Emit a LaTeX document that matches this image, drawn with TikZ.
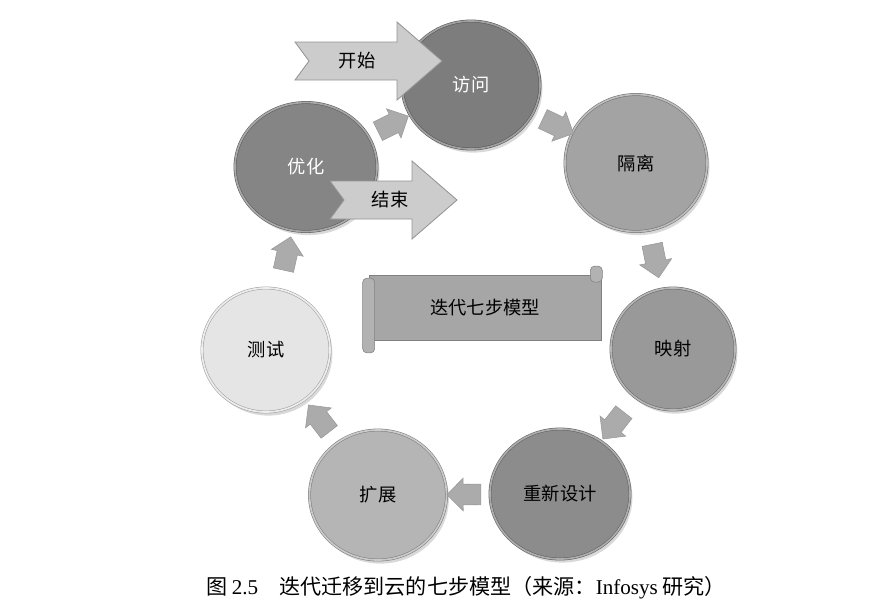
\documentclass[tikz,border=0pt]{standalone}
\usepackage{fontspec}
\setmainfont{Noto Sans CJK SC}
\newfontfamily\latinfont{Liberation Serif}
\usepackage{tikz}
\usetikzlibrary{arrows.meta,positioning,shapes.geometric,shapes.arrows,shadows,calc}
\newcommand{\labelsize}{\fontsize{13}{15}\selectfont}
\tikzset{
  stepdisc/.style={ellipse,fill=black!#1,draw=black!#1!white!70!black,double=black!#1!white!72,double distance=1.2pt,
    font=\labelsize,drop shadow={shadow xshift=0.6mm,shadow yshift=-0.9mm,opacity=0.3}},
  flowarrow/.style={single arrow,fill=black!33,draw=black!40,minimum height=0.85cm,inner sep=0.25cm,
    single arrow head extend=0.15cm},
  bigarrow/.style={fill=black!20,draw=black!42,line width=0.6pt},
  scrollbox/.style={rectangle,fill=black!35,draw=black!50,minimum width=5.8cm,minimum height=1.63cm,font=\labelsize},
  scrollroll/.style={fill=black!30,draw=black!50,rounded corners=3pt}
}

\begin{document}
\begin{tikzpicture}[x=0.025cm,y=-0.025cm]
        \useasboundingbox (0,0) rectangle (886,614);
        \foreach \n/\x/\y/\g/\w/\h/\t/\tc in {visit/471/85/51/138/128/访问/white, iso/636/163/36/142/137/隔离/black,
          map/673/349/40/124/122/映射/black, redesign/560/494/45/140/130/重新设计/black, expand/378/495/29/137/130/扩展/black,
          test/266/350/10/128/124/测试/black, optimize/306/167/48/142/129/优化/white}
          \node[stepdisc=\g,minimum width=\w*0.025cm,minimum height=\h*0.025cm,text=\tc] (\n) at (\x,\y) {\t};
        \foreach \a/\b in {optimize/visit, visit/iso, iso/map, map/redesign, redesign/expand, expand/test, test/optimize}
          \path let \p1=($(\b)-(\a)$) in node[flowarrow,rotate={atan2(\y1,\x1)}] (\a-\b) at ($(\a)!0.5!(\b)$) {};
        \foreach \n/\x/\y/\l/\tx/\t in {start/295/61/147/357/开始, finish/330/200/127/390/结束} {
          \filldraw[bigarrow] (\x,\y-19) -- (\x+\l-45,\y-19) -- (\x+\l-45,\y-39) -- (\x+\l,\y) -- (\x+\l-45,\y+39)
            -- (\x+\l-45,\y+19) -- (\x,\y+19) -- (\x+14,\y) -- cycle;
          \node[font=\labelsize] (\n) at (\tx,\y) {\t};}
        \node[scrollbox] (title) at (485,308) {迭代七步模型};
        \filldraw[scrollroll] ($(title.north west)+(-6,3)$) rectangle ($(title.south west)+(6,12)$);
        \filldraw[scrollroll] ($(title.north east)+(-11,-9)$) rectangle ($(title.north east)+(1,7)$);
        \node[font=\fontsize{15}{18}\selectfont] (caption) at (466,588) {图 {\latinfont 2.5}\quad 迭代迁移到云的七步模型（来源：{\latinfont Infosys} 研究）};
      \end{tikzpicture}
\end{document}
